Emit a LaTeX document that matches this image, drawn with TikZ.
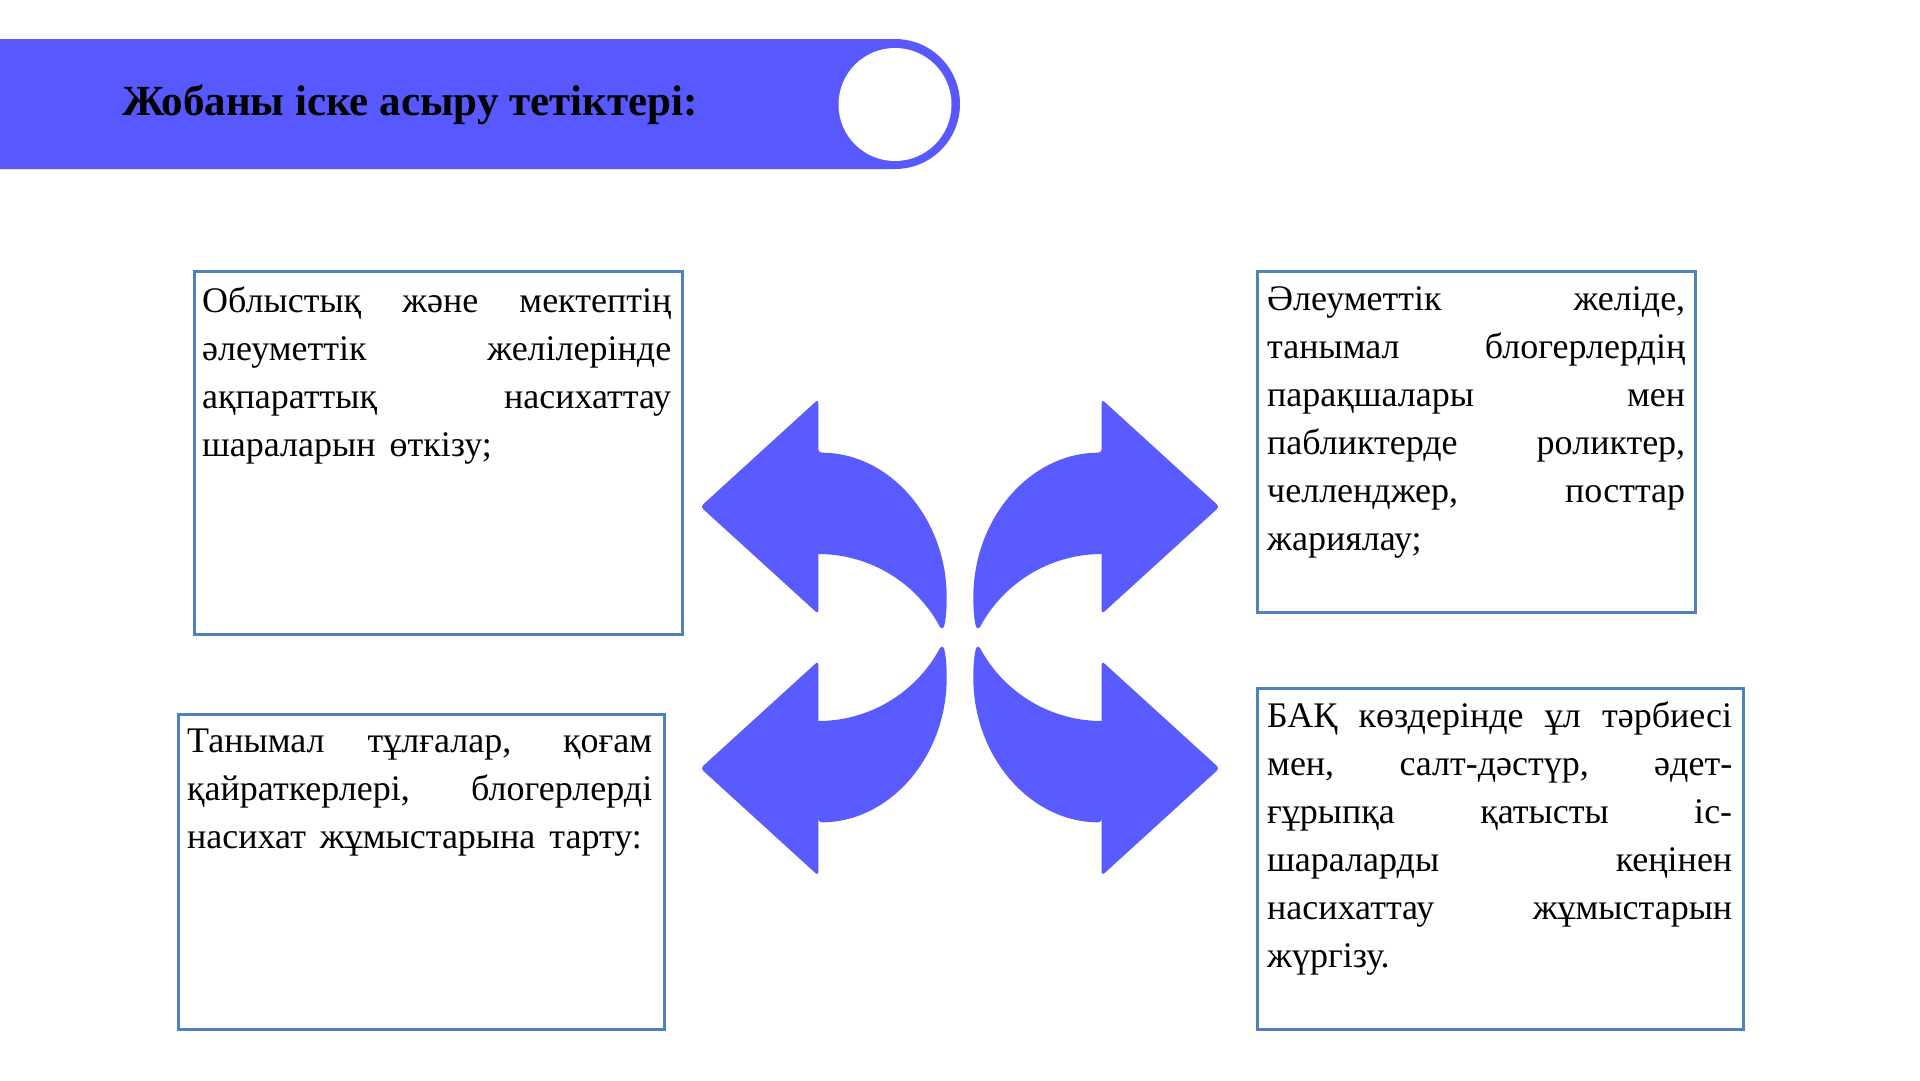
\documentclass[tikz,border=0pt]{standalone}
\usepackage{fontspec}
\setmainfont{Liberation Serif}
\definecolor{hdrc}{RGB}{88,88,255}
\definecolor{arrowc}{RGB}{90,91,255}
\definecolor{boxc}{RGB}{79,129,189}
\newcommand\jl[1]{\makebox[\linewidth][s]{#1}}
\newcommand\qarrowpath{%
  (-141.7,-184.8) .. controls (-70.8,-184.8) and (-13.3,-119.9) .. (-13.3,-40)
  .. controls (-13.3,-26) and (-14.5,-16) .. (-16,-11)
  .. controls (-17.5,-7) and (-20.5,-10) .. (-22.2,-14.5)
  .. controls (-46.9,-57.2) and (-92.4,-83.5) .. (-141.7,-83.5)
  [rounded corners=3.5pt] -- (-141.7,-23.5) -- (-259.5,-130.8) -- (-141.7,-238.2) -- (-141.7,-184.8) -- cycle}
\tikzset{
  boxst/.style={draw=boxc, line width=2.5pt, fill=white, inner sep=0pt, anchor=north west},
  txtst/.style={inner sep=0pt, anchor=north west, align=justify, font=\fontsize{36}{48}\selectfont},
  arrowst/.style={fill=arrowc},
}
\begin{document}
\begin{tikzpicture}[x=1pt,y=-1pt]
\useasboundingbox (0,0) rectangle (1920,1080);
\fill[white] (0,0) rectangle (1920,1080);
% header bar
\fill[hdrc] (0,39) -- (895,39) arc[start angle=-90, end angle=90, radius=65] -- (0,169) -- cycle;
\node[circle, fill=white, minimum size=113pt, inner sep=0pt] (knob) at (895,104.5) {};
\node[anchor=base west, inner sep=0pt, font=\fontsize{43}{52}\selectfont\bfseries] (title) at (122,115) {Жобаны іске асыру тетіктері:};
% arrows
\begin{scope}[shift={(960,637.5)}]
  \fill[arrowst] \qarrowpath;
\end{scope}
\begin{scope}[shift={(960,637.5)}, xscale=-1]
  \fill[arrowst] \qarrowpath;
\end{scope}
\begin{scope}[shift={(960,637.5)}, yscale=-1]
  \fill[arrowst] \qarrowpath;
\end{scope}
\begin{scope}[shift={(960,637.5)}, xscale=-1, yscale=-1]
  \fill[arrowst] \qarrowpath;
\end{scope}
% boxes
\node[boxst, minimum width=488pt, minimum height=363pt] (b1) at (193,270) {};
\node[txtst, text width=469pt] (t1) at (202,282) {\rule{0pt}{30pt}\jl{Облыстық және мектептің}\\
\jl{әлеуметтік желілерінде}\\
\jl{ақпараттық насихаттау}\\
шараларын\hspace{14pt}өткізу;};

\node[boxst, minimum width=438pt, minimum height=341pt] (b2) at (1256,270) {};
\node[txtst, text width=418pt] (t2) at (1267,280) {\rule{0pt}{30pt}\jl{Әлеуметтік желіде,}\\
\jl{танымал блогерлердің}\\
\jl{парақшалары мен}\\
\jl{пабликтерде роликтер,}\\
\jl{челленджер, посттар}\\
жариялау;};

\node[boxst, minimum width=486pt, minimum height=315pt] (b3) at (177,713) {};
\node[txtst, text width=465pt] (t3) at (187,722) {\rule{0pt}{30pt}\jl{Танымал тұлғалар, қоғам}\\
\jl{қайраткерлері, блогерлерді}\\
насихат\hspace{14pt}жұмыстарына\hspace{14pt}тарту:};

\node[boxst, minimum width=486pt, minimum height=341pt] (b4) at (1256,687) {};
\node[txtst, text width=465pt] (t4) at (1267,697) {\rule{0pt}{30pt}\jl{БАҚ көздерінде ұл тәрбиесі}\\
\jl{мен, салт-дәстүр, әдет-}\\
\jl{ғұрыпқа қатысты іс-}\\
\jl{шараларды кеңінен}\\
\jl{насихаттау жұмыстарын}\\
жүргізу.};
\end{tikzpicture}
\end{document}
